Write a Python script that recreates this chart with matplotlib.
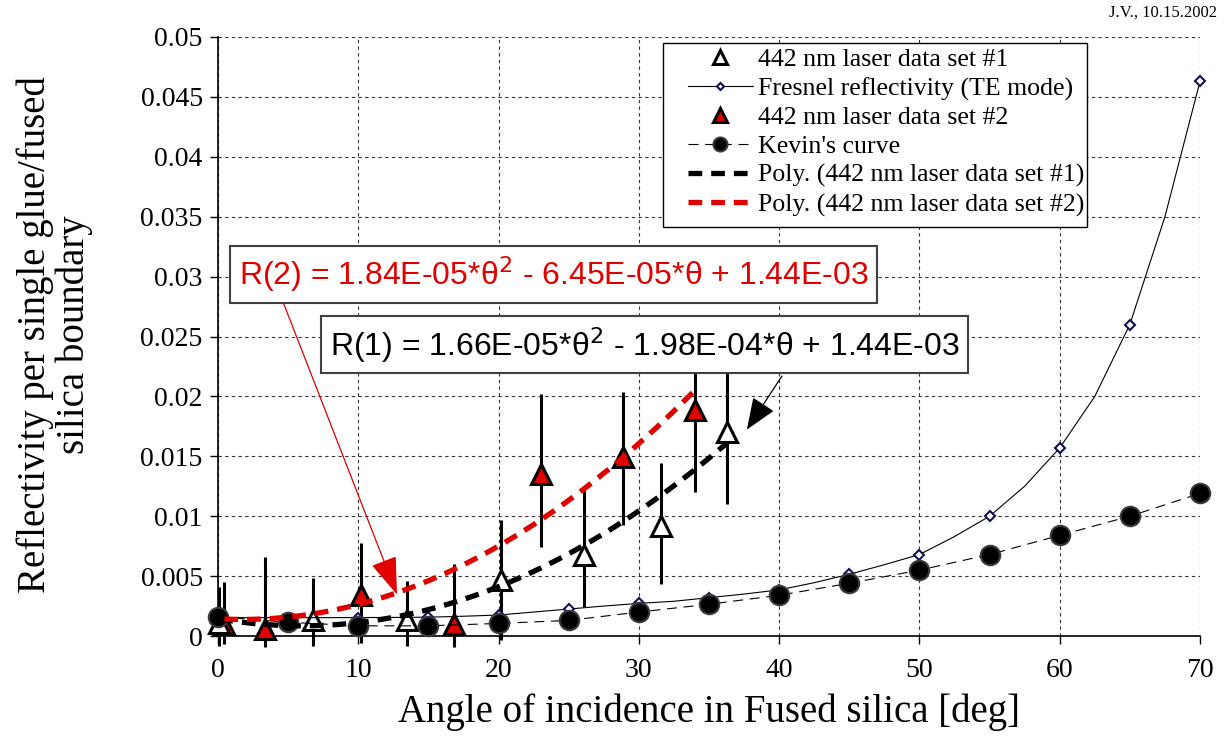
import matplotlib
matplotlib.use("Agg")
import matplotlib.pyplot as plt
import numpy as np
from matplotlib.patches import Rectangle
from matplotlib.ticker import FuncFormatter, MultipleLocator

# 442 nm laser data set #1 (open triangles), bar_low / bar_high = error bar ends
set1_angle = [0.1, 6.8, 13.5, 20.2, 26.1, 31.6, 36.3]
set1_refl = [0.0011, 0.0013, 0.0013, 0.0047, 0.0068, 0.0092, 0.0170]
set1_bar_low = [-0.0008, -0.0008, -0.0008, -0.0003, 0.0024, 0.0043, 0.0110]
set1_bar_high = [0.0041, 0.0048, 0.0046, 0.0097, 0.0122, 0.0144, 0.0230]

# 442 nm laser data set #2 (red triangles)
set2_angle = [0.45, 3.35, 10.2, 16.8, 23.0, 28.9, 34.0]
set2_refl = [0.0010, 0.0006, 0.0034, 0.0010, 0.0135, 0.0149, 0.0189]
set2_bar_low = [-0.0007, -0.0009, -0.0006, -0.0009, 0.0074, 0.0093, 0.0120]
set2_bar_high = [0.0045, 0.0066, 0.0078, 0.0060, 0.0202, 0.0204, 0.0258]

# Fresnel reflectivity (TE mode)
fresnel_angle = [0, 2.5, 5, 7.5, 10, 12.5, 15, 17.5, 20, 22.5, 25, 27.5, 30, 32.5,
                 35, 37.5, 40, 42.5, 45, 47.5, 50, 52.5, 55, 57.5, 60, 62.5, 65, 67.5, 70]
fresnel_refl = [0.00153, 0.00153, 0.00153, 0.00153, 0.00154, 0.00155, 0.00157, 0.00165,
                0.00175, 0.0020, 0.00225, 0.0025, 0.00272, 0.0029, 0.0032, 0.0035,
                0.00385, 0.00445, 0.00515, 0.00595, 0.0068, 0.0083, 0.0100, 0.0125,
                0.0157, 0.0200, 0.0260, 0.0350, 0.0463]

# Kevin's curve
kevin_angle = [0, 5, 10, 15, 20, 25, 30, 35, 40, 45, 50, 55, 60, 65, 70]
kevin_refl = [0.0016, 0.00115, 0.00085, 0.00085, 0.00105, 0.0013, 0.0020, 0.00265,
              0.0034, 0.0044, 0.0055, 0.0068, 0.0084, 0.0100, 0.0119]

# polynomial trendline coefficients as printed on the chart (theta^2, theta, 1)
poly1_coef = [1.66e-05, -1.98e-04, 1.44e-03]
poly2_coef = [1.84e-05, -6.45e-05, 1.44e-03]

x_ticks = [0, 10, 20, 30, 40, 50, 60, 70]

RED = "#e00000"


def main() -> None:
    plt.rcParams["font.family"] = ["Liberation Serif", "DejaVu Serif"]
    fig = plt.figure(figsize=(12.29, 7.42), dpi=100)
    ax = fig.add_axes([218 / 1229, 1 - 636 / 742, 982 / 1229, 599 / 742])

    # error bars (drawn below the markers)
    ax.vlines(set1_angle, set1_bar_low, set1_bar_high, colors="black", lw=2.2,
              zorder=2, clip_on=False)
    ax.vlines(set2_angle, set2_bar_low, set2_bar_high, colors="black", lw=2.2,
              zorder=2, clip_on=False)

    ax.plot(set2_angle, set2_refl, ls="none", marker="^", ms=14, mfc=RED,
            mec="black", mew=2.2, zorder=3, clip_on=False)
    ax.plot(set1_angle, set1_refl, ls="none", marker="^", ms=14, mfc="white",
            mec="black", mew=2.2, zorder=3, clip_on=False,
            label="442 nm laser data set #1")
    ax.plot(fresnel_angle, fresnel_refl, color="black", lw=0.8, marker="D", ms=5,
            mfc="white", mec="#101050", mew=1.5, markevery=2, zorder=3,
            clip_on=False, label="Fresnel reflectivity (TE mode)")
    ax.plot([], [], ls="none", marker="^", ms=14, mfc=RED, mec="black", mew=2.2,
            label="442 nm laser data set #2")
    ax.plot(kevin_angle, kevin_refl, color="black", lw=0.8, ls=(0, (9, 6)),
            marker="o", ms=14, mfc="black", mec="#3a3a3a", mew=1.5, zorder=3.5,
            clip_on=False, label="Kevin's curve")

    t1 = np.linspace(set1_angle[0], set1_angle[-1], 200)
    t2 = np.linspace(set2_angle[0], set2_angle[-1], 200)
    ax.plot(t1, np.polyval(poly1_coef, t1), color="black", lw=3.8,
            ls=(0, (2.6, 1.7)), dash_capstyle="butt", zorder=4,
            label="Poly. (442 nm laser data set #1)")
    ax.plot(t2, np.polyval(poly2_coef, t2), color=RED, lw=3.8,
            ls=(0, (2.6, 1.7)), dash_capstyle="butt", zorder=4,
            label="Poly. (442 nm laser data set #2)")

    # arrows from the equation boxes
    ax.annotate("", xy=(12.76, 0.00346), xytext=(4.63, 0.0279),
                arrowprops=dict(arrowstyle="-|>,head_length=1.2,head_width=0.42",
                                color=RED, lw=0.9, mutation_scale=20,
                                shrinkA=0, shrinkB=0), zorder=5)
    ax.annotate("", xy=(37.7, 0.01723), xytext=(40.2, 0.0217),
                arrowprops=dict(arrowstyle="-|>,head_length=1.0,head_width=0.4",
                                color="black", lw=0.9, mutation_scale=20,
                                shrinkA=0, shrinkB=0), zorder=5)

    box = dict(boxstyle="square,pad=0.27", facecolor="white", edgecolor="#404040", lw=1.5)
    ax.text(23.95, 0.0302, "R(2) = 1.84E-05*θ$^2$ - 6.45E-05*θ + 1.44E-03",
            color=RED, fontsize=23, family=["Liberation Sans", "DejaVu Sans"],
            ha="center", va="center", bbox=box, zorder=6)
    ax.text(30.4, 0.0243, "R(1) = 1.66E-05*θ$^2$ - 1.98E-04*θ + 1.44E-03",
            color="black", fontsize=23, family=["Liberation Sans", "DejaVu Sans"],
            ha="center", va="center", bbox=box, zorder=6)

    ax.set_xlim(0, 70)
    ax.set_ylim(0, 0.05)
    ax.set_xticks(x_ticks)
    ax.yaxis.set_major_locator(MultipleLocator(0.005))
    ax.yaxis.set_major_formatter(FuncFormatter(lambda v, _: f"{v:g}"))
    ax.tick_params(axis="both", direction="out", length=6, width=1, labelsize=20)
    ax.tick_params(axis="x", pad=10)
    ax.tick_params(axis="y", pad=5)
    ax.grid(True, color="#333333", lw=0.8, ls=(0, (3, 3)))
    ax.set_axisbelow(True)
    ax.spines["top"].set_visible(False)
    ax.spines["right"].set_visible(False)
    for side in ("left", "bottom"):
        ax.spines[side].set_linewidth(1.2)

    ax.set_xlabel("Angle of incidence in Fused silica [deg]", fontsize=28, labelpad=7)
    fig.text(55 / 1229, 1 - 335 / 742, "Reflectivity per single glue/fused\nsilica boundary",
             rotation=90, fontsize=28, ha="center", va="center", multialignment="center",
             linespacing=1.05)
    fig.text(1217 / 1229, 1 - 13 / 742, "J.V., 10.15.2002", fontsize=12,
             ha="right", va="center")

    # legend frame is wider on the left than the entries, as in the source chart
    ax.add_patch(Rectangle((0.453, 0.683), 0.4318, 0.307, transform=ax.transAxes,
                           facecolor="white", edgecolor="black", lw=1.0,
                           zorder=6.9, clip_on=False))
    leg = ax.legend(loc="upper left", bbox_to_anchor=((688 - 218) / 982, 0.981),
                    borderaxespad=0, borderpad=0, frameon=False,
                    fontsize=18.6, markerscale=0.72, handlelength=2.5, handletextpad=0.2,
                    labelspacing=0.22)
    leg.set_zorder(7)

    fig.savefig("out.png", dpi=100)


if __name__ == "__main__":
    main()
